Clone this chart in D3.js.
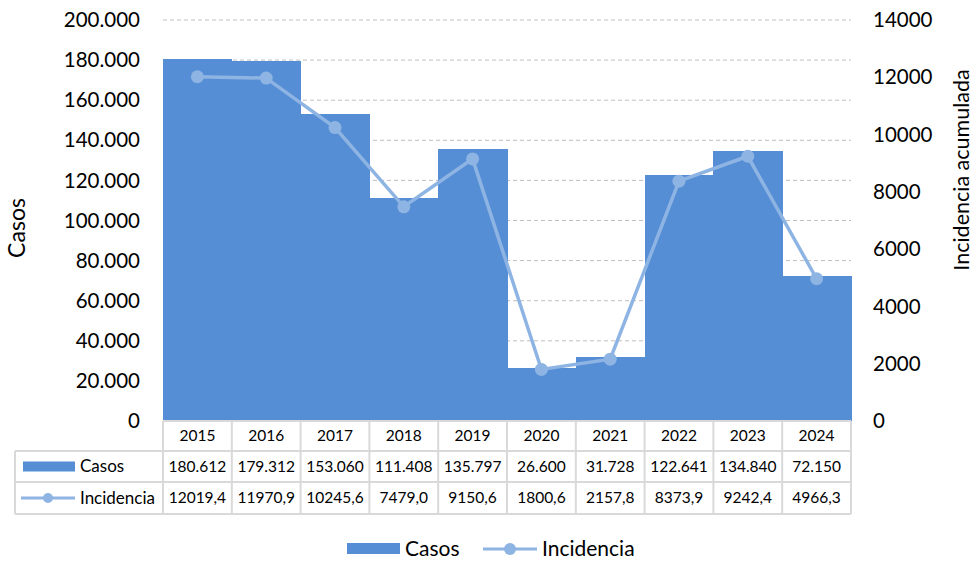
<!DOCTYPE html>
<html>
<head>
<meta charset="utf-8">
<script src="https://cdn.jsdelivr.net/npm/d3@7"></script>
<style>
  body { margin: 0; background: #fff; }
  text { font-family: Lato, "Open Sans", sans-serif; fill: #000; }
</style>
</head>
<body>
<svg id="chart" width="975" height="563"></svg>
<script>
const years = ["2015", "2016", "2017", "2018", "2019", "2020", "2021", "2022", "2023", "2024"];
const casos = [180612, 179312, 153060, 111408, 135797, 26600, 31728, 122641, 134840, 72150];
const incidencia = [12019.4, 11970.9, 10245.6, 7479.0, 9150.6, 1800.6, 2157.8, 8373.9, 9242.4, 4966.3];
const leftTicks = [0, 20000, 40000, 60000, 80000, 100000, 120000, 140000, 160000, 180000, 200000];
const rightTicks = [0, 2000, 4000, 6000, 8000, 10000, 12000, 14000];

const barColor = "#558ed5"; // bar fill
const lineColor = "#8eb4e3"; // line + markers
const gridColor = "#bfbfbf";
const tableBorder = "#d9d9d9";

const svg = d3.select("#chart");
const plotLeft = 163, plotRight = 851, plotTop = 20, plotBottom = 421;

const x = d3.scaleBand().domain(years).range([plotLeft, plotRight]).padding(0);
const yL = d3.scaleLinear().domain([0, 200000]).range([plotBottom, plotTop]);
const yR = d3.scaleLinear().domain([0, 14000]).range([plotBottom, plotTop]);

// number formats: dots for thousands, comma for decimals
const fmtThousands = v => v === 0 ? "0" : d3.format(",")(v).replace(/,/g, ".");
const fmtDec = v => v.toFixed(1).replace(".", ",");

// gridlines (dashed)
svg.append("g")
  .selectAll("line")
  .data(leftTicks.filter(d => d > 0))
  .join("line")
  .attr("x1", plotLeft).attr("x2", plotRight)
  .attr("y1", d => yL(d)).attr("y2", d => yL(d))
  .attr("stroke", gridColor)
  .attr("stroke-width", 1)
  .attr("stroke-dasharray", "4,3");

// bars
svg.append("g")
  .attr("shape-rendering", "crispEdges")
  .selectAll("rect")
  .data(years)
  .join("rect")
  .attr("x", d => x(d))
  .attr("width", x.bandwidth() + 0.5)
  .attr("y", (d, i) => yL(casos[i]))
  .attr("height", (d, i) => plotBottom - yL(casos[i]))
  .attr("fill", barColor);

// line
const line = d3.line()
  .x((d, i) => x(years[i]) + x.bandwidth() / 2)
  .y(d => yR(d));

svg.append("path")
  .datum(incidencia)
  .attr("d", line)
  .attr("fill", "none")
  .attr("stroke", lineColor)
  .attr("stroke-width", 3.5);

svg.append("g")
  .selectAll("circle")
  .data(incidencia)
  .join("circle")
  .attr("cx", (d, i) => x(years[i]) + x.bandwidth() / 2)
  .attr("cy", d => yR(d))
  .attr("r", 6.5)
  .attr("fill", lineColor);

// left axis labels
svg.append("g")
  .selectAll("text")
  .data(leftTicks)
  .join("text")
  .attr("x", 140)
  .attr("y", d => yL(d))
  .attr("dy", "0.35em")
  .attr("text-anchor", "end")
  .attr("font-size", "20.5px")
  .text(fmtThousands);

// right axis labels
svg.append("g")
  .selectAll("text")
  .data(rightTicks)
  .join("text")
  .attr("x", 873)
  .attr("y", d => yR(d))
  .attr("dy", "0.35em")
  .attr("text-anchor", "start")
  .attr("font-size", "20.5px")
  .text(d => d);

// axis titles
svg.append("text")
  .attr("transform", "translate(25,228) rotate(-90)")
  .attr("text-anchor", "middle")
  .attr("font-size", "23px")
  .text("Casos");

svg.append("text")
  .attr("transform", "translate(969,170) rotate(-90)")
  .attr("text-anchor", "middle")
  .attr("font-size", "21.5px")
  .text("Incidencia acumulada");

// data table
const rowTop = [421, 451, 482, 514];
const tableLeft = 15;
const tg = svg.append("g");

// vertical lines between year columns
const colEdges = years.map(d => x(d)).concat([plotRight]);
tg.selectAll("line.v")
  .data(colEdges)
  .join("line")
  .attr("class", "v")
  .attr("x1", d => d).attr("x2", d => d)
  .attr("y1", rowTop[0]).attr("y2", rowTop[3])
  .attr("stroke", tableBorder).attr("stroke-width", 2);

tg.append("line")
  .attr("x1", tableLeft).attr("x2", tableLeft)
  .attr("y1", rowTop[1]).attr("y2", rowTop[3])
  .attr("stroke", tableBorder).attr("stroke-width", 2);

// horizontal lines
tg.append("line")
  .attr("x1", plotLeft).attr("x2", plotRight)
  .attr("y1", rowTop[0]).attr("y2", rowTop[0])
  .attr("stroke", tableBorder).attr("stroke-width", 2);
[rowTop[1], rowTop[2], rowTop[3]].forEach(yy => {
  tg.append("line")
    .attr("x1", tableLeft).attr("x2", plotRight)
    .attr("y1", yy).attr("y2", yy)
    .attr("stroke", tableBorder).attr("stroke-width", 2);
});

const cx = d => x(d) + x.bandwidth() / 2;
const rowMid = i => (rowTop[i] + rowTop[i + 1]) / 2;

tg.selectAll("text.year")
  .data(years)
  .join("text")
  .attr("class", "year")
  .attr("x", cx).attr("y", rowMid(0))
  .attr("dy", "0.35em")
  .attr("text-anchor", "middle")
  .attr("font-size", "15.5px")
  .text(d => d);

tg.selectAll("text.casos")
  .data(casos)
  .join("text")
  .attr("class", "casos")
  .attr("x", (d, i) => cx(years[i])).attr("y", rowMid(1))
  .attr("dy", "0.35em")
  .attr("text-anchor", "middle")
  .attr("font-size", "15.5px")
  .text(fmtThousands);

tg.selectAll("text.inc")
  .data(incidencia)
  .join("text")
  .attr("class", "inc")
  .attr("x", (d, i) => cx(years[i])).attr("y", rowMid(2))
  .attr("dy", "0.35em")
  .attr("text-anchor", "middle")
  .attr("font-size", "15.5px")
  .text(fmtDec);

// row headers with legend keys
tg.append("rect")
  .attr("x", 23).attr("y", rowMid(1) - 5)
  .attr("width", 52).attr("height", 10)
  .attr("fill", barColor);
tg.append("text")
  .attr("x", 80).attr("y", rowMid(1)).attr("dy", "0.35em")
  .attr("font-size", "17px").text("Casos");

tg.append("line")
  .attr("x1", 21).attr("x2", 75)
  .attr("y1", rowMid(2)).attr("y2", rowMid(2))
  .attr("stroke", lineColor).attr("stroke-width", 3);
tg.append("circle")
  .attr("cx", 48).attr("cy", rowMid(2)).attr("r", 5)
  .attr("fill", lineColor);
tg.append("text")
  .attr("x", 80).attr("y", rowMid(2)).attr("dy", "0.35em")
  .attr("font-size", "17px").text("Incidencia");

// legend
const lg = svg.append("g");
lg.append("rect")
  .attr("x", 347).attr("y", 543)
  .attr("width", 53).attr("height", 11)
  .attr("fill", barColor);
lg.append("text")
  .attr("x", 405).attr("y", 549).attr("dy", "0.35em")
  .attr("font-size", "21px").text("Casos");
lg.append("line")
  .attr("x1", 483).attr("x2", 537)
  .attr("y1", 549).attr("y2", 549)
  .attr("stroke", lineColor).attr("stroke-width", 3);
lg.append("circle")
  .attr("cx", 510).attr("cy", 549).attr("r", 6)
  .attr("fill", lineColor);
lg.append("text")
  .attr("x", 542).attr("y", 549).attr("dy", "0.35em")
  .attr("font-size", "21px").text("Incidencia");
</script>
</body>
</html>
